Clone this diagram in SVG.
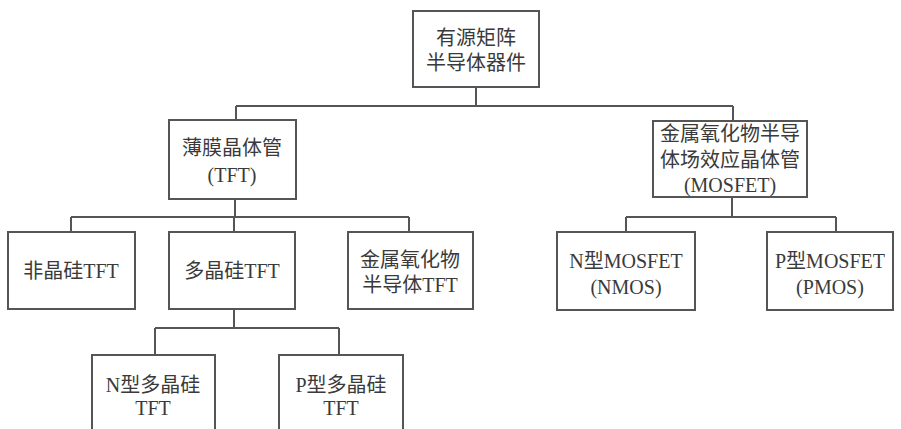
<svg xmlns="http://www.w3.org/2000/svg" width="901" height="429" viewBox="0 0 901 429">
<style>
.box{fill:#fff;stroke:#555;stroke-width:2}
.ln{fill:none;stroke:#555;stroke-width:2}
text{font-family:"Liberation Serif","Noto Sans CJK SC",serif;font-size:20px;fill:#3a3a3a;text-anchor:middle;dominant-baseline:central}
</style>
<rect width="901" height="429" fill="#fff"/>
<g id="connectors">
<path class="ln" d="M476 87V106M236 106H733M236 106V120M733 106V121"/>
<path class="ln" d="M235 199V217M71 217H409M71 217V232M234 217V232M409 217V232"/>
<path class="ln" d="M732 197V217M626 217H836M626 217V232M836 217V232"/>
<path class="ln" d="M234 309V328M155 328H339M155 328V355M339 328V355"/>
</g>
<g id="n-root"><rect class="box" x="413" y="11" width="126" height="76"/><text x="476" y="38">有源矩阵</text><text x="476" y="63">半导体器件</text></g>
<g id="n-tft"><rect class="box" x="169" y="120" width="127" height="79"/><text x="232" y="148">薄膜晶体管</text><text x="232" y="175">(TFT)</text></g>
<g id="n-mosfet"><rect class="box" x="653" y="121" width="154" height="76"/><text x="730" y="134">金属氧化物半导</text><text x="730" y="160">体场效应晶体管</text><text x="730" y="185">(MOSFET)</text></g>
<g id="n-asi"><rect class="box" x="8" y="232" width="127" height="77"/><text x="71" y="271">非晶硅TFT</text></g>
<g id="n-psi"><rect class="box" x="169" y="232" width="126" height="77"/><text x="232" y="271">多晶硅TFT</text></g>
<g id="n-oxide"><rect class="box" x="348" y="232" width="125" height="77"/><text x="410" y="260">金属氧化物</text><text x="410" y="285">半导体TFT</text></g>
<g id="n-nmos"><rect class="box" x="557" y="232" width="138" height="78"/><text x="626" y="261">N型MOSFET</text><text x="626" y="287">(NMOS)</text></g>
<g id="n-pmos"><rect class="box" x="767" y="232" width="126" height="78"/><text x="830" y="261">P型MOSFET</text><text x="830" y="287">(PMOS)</text></g>
<g id="n-npsi"><rect class="box" x="92" y="355" width="123" height="90"/><text x="153" y="385">N型多晶硅</text><text x="153" y="408">TFT</text></g>
<g id="n-ppsi"><rect class="box" x="279" y="355" width="124" height="90"/><text x="341" y="385">P型多晶硅</text><text x="341" y="408">TFT</text></g>
</svg>
